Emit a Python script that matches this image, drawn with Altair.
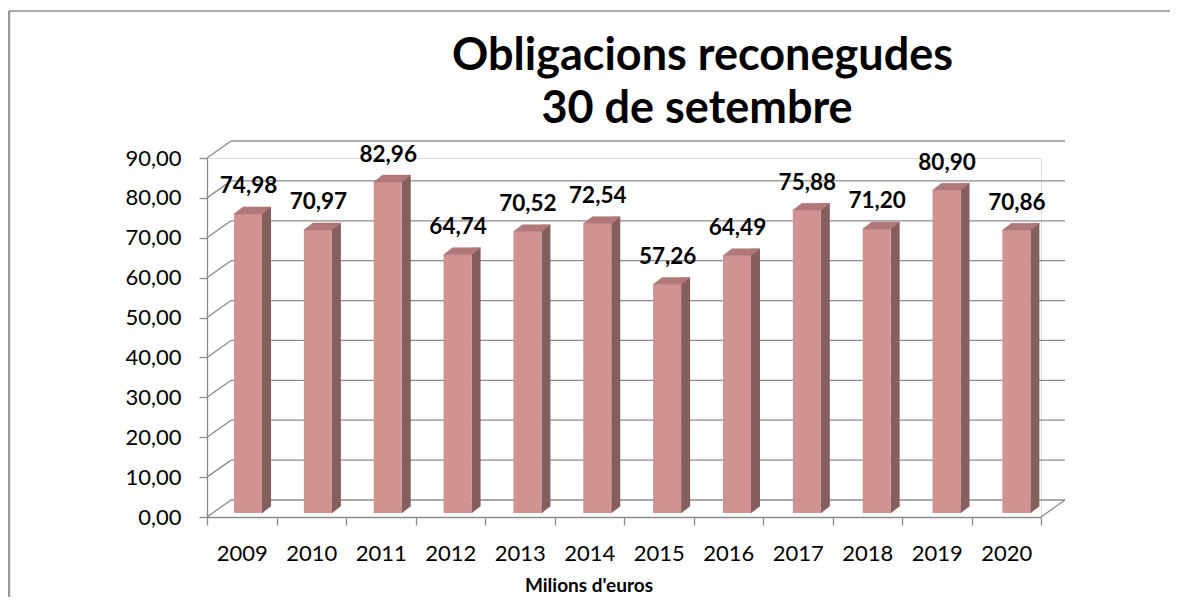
import altair as alt
import pandas as pd

years = ["2009", "2010", "2011", "2012", "2013", "2014",
         "2015", "2016", "2017", "2018", "2019", "2020"]
values = [74.98, 70.97, 82.96, 64.74, 70.52, 72.54,
          57.26, 64.49, 75.88, 71.20, 80.90, 70.86]
y_ticks = [0, 10, 20, 30, 40, 50, 60, 70, 80, 90]
title_lines = ["Obligacions reconegudes", "30 de setembre"]
x_title = "Milions d'euros"

W, H = 834, 359
PAD = {"left": 199, "top": 150, "right": 129, "bottom": 80}
FRONT = "#D19292"
SIDE = "#855E5E"
TOP = "#B07878"
GRID = "#8C8C8C"
DX, DY = 24, -17        # wall depth
BAR_DY = -4             # bars sit slightly behind the front axis
BW = 28                 # bar front width
SX, SY = 9, -7          # bar depth
FONT = "Lato"

df = pd.DataFrame({"year": years, "value": values})
df["lab"] = [f"{v:.2f}".replace(".", ",") for v in values]
grid_df = pd.DataFrame({"v": y_ticks})
one = pd.DataFrame({"k": [0]})

yscale = alt.Scale(domain=[0, 90], nice=False, zero=True)
xband = alt.Scale(domain=years, paddingInner=0, paddingOuter=0)
xbar = alt.Scale(domain=years, paddingInner=0, paddingOuter=0, range=[6.1, 844.3])

Y = lambda f="value:Q": alt.Y(f, scale=yscale, axis=None)
XB = lambda: alt.X("year:N", scale=xbar, axis=None)

axes = alt.Chart(df).mark_point(opacity=0).encode(
    x=alt.X("year:N", scale=xband, title=None,
            axis=alt.Axis(tickBand="extent", labelAngle=0, tickSize=8,
                          labelFont=FONT, labelFontSize=22, labelColor="#000",
                          labelBaseline="alphabetic", labelPadding=35,
                          domainColor=GRID, tickColor=GRID, domainWidth=1.3, tickWidth=1.3)),
    y=alt.Y("value:Q", scale=yscale, title=None,
            axis=alt.Axis(values=y_ticks, tickSize=8, labelPadding=18,
                          labelExpr="format(datum.value, '.0f') + ',00'",
                          labelFont=FONT, labelFontSize=22, labelColor="#000",
                          domainColor=GRID, tickColor=GRID, grid=False,
                          domainWidth=1.3, tickWidth=1.3)),
)

back_grid = alt.Chart(grid_df).mark_rule(color=GRID, strokeWidth=1.3, yOffset=DY).encode(
    y=Y("v:Q"), x=alt.value(DX), x2=alt.value(W + DX),
)
diag = alt.Chart(grid_df).mark_rule(color=GRID, strokeWidth=1.3, y2Offset=DY).encode(
    y=Y("v:Q"), y2="v:Q", x=alt.value(0), x2=alt.value(DX),
)
floor_edge = alt.Chart(grid_df[grid_df.v == 0]).mark_rule(color=GRID, strokeWidth=1.3, y2Offset=DY).encode(
    y=Y("v:Q"), y2="v:Q", x=alt.value(W), x2=alt.value(W + DX),
)

side = alt.Chart(df).mark_bar(width=SX, xOffset=BW / 2 + SX / 2, yOffset=BAR_DY + SY,
                              y2Offset=BAR_DY + SY, color=SIDE).encode(
    x=XB(), y=Y(), y2=alt.datum(0),
)
side_bottom = alt.Chart(df).mark_point(
    shape=f"M {BW/2} {SY} L {BW/2} 0 L {BW/2+SX} {SY} Z", size=4, filled=True,
    color=SIDE, opacity=1, stroke=SIDE, strokeWidth=0.5, yOffset=BAR_DY,
).encode(x=XB(), y=Y("zero:Q")).transform_calculate(zero="0")
front = alt.Chart(df).mark_bar(width=BW, yOffset=BAR_DY, y2Offset=BAR_DY, color=FRONT).encode(
    x=XB(), y=Y(), y2=alt.datum(0),
)
top = alt.Chart(df).mark_point(
    shape=f"M {-BW/2} 0 L {BW/2} 0 L {BW/2+SX} {SY} L {-BW/2+SX} {SY} Z", size=4, filled=True,
    color=TOP, opacity=1, stroke=TOP, strokeWidth=0.5, yOffset=BAR_DY,
).encode(x=XB(), y=Y())

labels = alt.Chart(df).mark_text(font=FONT, fontWeight="bold", fontSize=22.5, color="#000",
                                 baseline="alphabetic", yOffset=BAR_DY - 20.5, xOffset=0.5).encode(
    x=XB(), y=Y(), text="lab:N",
)

t1 = alt.Chart(one).mark_text(text=title_lines[0], font=FONT, fontWeight="bold", fontSize=45,
                              baseline="alphabetic", color="#000").encode(
    x=alt.value(495.5), y=alt.value(-88))
t2 = alt.Chart(one).mark_text(text=title_lines[1], font=FONT, fontWeight="bold", fontSize=45,
                              baseline="alphabetic", color="#000").encode(
    x=alt.value(490), y=alt.value(-35))
xt = alt.Chart(one).mark_text(text=x_title, font=FONT, fontWeight="bold", fontSize=19,
                              baseline="alphabetic", color="#000").encode(
    x=alt.value(382), y=alt.value(434))

frame_left = alt.Chart(one).mark_rule(color="#999999", strokeWidth=2.5).encode(
    x=alt.value(-198), y=alt.value(-147), y2=alt.value(H + PAD["bottom"]))
frame_top = alt.Chart(one).mark_rule(color="#8C8C8C", strokeWidth=1.5).encode(
    y=alt.value(-147), x=alt.value(-198), x2=alt.value(W + PAD["right"]))

chart = alt.layer(
    frame_left, frame_top, back_grid, diag, floor_edge, axes,
    side, side_bottom, front, top, labels, t1, t2, xt,
).resolve_scale(x="independent", y="independent").properties(
    width=W, height=H,
    padding=PAD,
    autosize=alt.AutoSizeParams(type="none"),
).configure_view(strokeWidth=0).configure(background="white")

chart.save("out.html", embed_options={"renderer": "svg", "actions": False})
